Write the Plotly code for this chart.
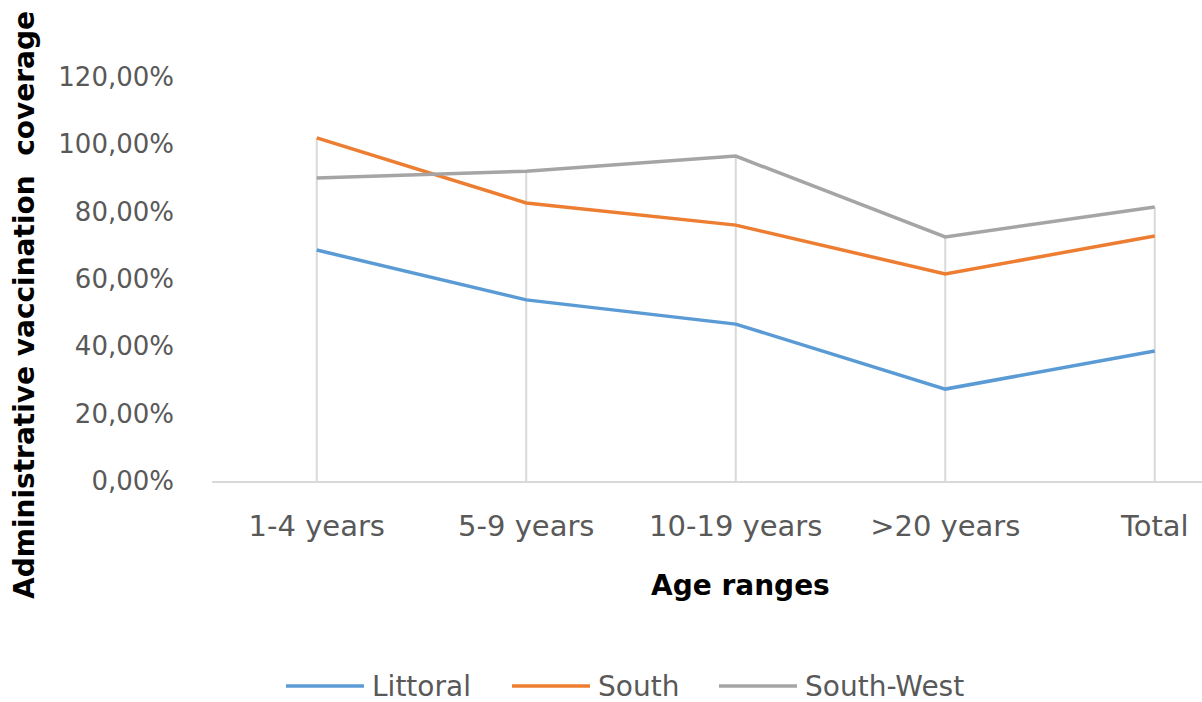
import plotly.graph_objects as go

categories = ["1-4 years", "5-9 years", "10-19 years", ">20 years", "Total"]
littoral = [0.686, 0.538, 0.466, 0.273, 0.386]
south = [1.019, 0.826, 0.760, 0.615, 0.728]
south_west = [0.900, 0.920, 0.965, 0.725, 0.814]
series_names = ["Littoral", "South", "South-West"]
colors = ["#5B9BD5", "#ED7D31", "#A5A5A5"]
y_ticks = [0, 0.2, 0.4, 0.6, 0.8, 1.0, 1.2]

FONT = "DejaVu Sans, Liberation Sans, Arial, sans-serif"

all_series = [littoral, south, south_west]
xs = list(range(len(categories)))

fig = go.Figure()

# Drop lines (from axis up to the highest series at each category)
drop_x, drop_y = [], []
for i in xs:
    top = max(s[i] for s in all_series)
    drop_x += [i, i, None]
    drop_y += [0, top, None]
fig.add_trace(go.Scatter(x=drop_x, y=drop_y, mode="lines",
                         line=dict(color="#D9D9D9", width=2),
                         showlegend=False, hoverinfo="skip"))

for name, vals, col in zip(series_names, all_series, colors):
    fig.add_trace(go.Scatter(
        x=xs, y=vals, mode="lines", name=name,
        line=dict(color=col, width=3.5), showlegend=False,
    ))

plot_h = 702 - 77 - 221
plot_w = 1202 - 212


def px_x(px):
    return (px - 212) / plot_w


def px_y(py):
    return (481 - py) / plot_h


# Legend drawn manually (line sample + label) below the chart
legend_starts = [286, 512, 719]
legend_y = 686
shapes = []
annotations = []
for name, col, x0 in zip(series_names, colors, legend_starts):
    shapes.append(dict(type="line", xref="paper", yref="paper",
                       x0=px_x(x0), x1=px_x(x0 + 78),
                       y0=px_y(legend_y), y1=px_y(legend_y),
                       line=dict(color=col, width=3.5)))
    annotations.append(dict(text=name, xref="paper", yref="paper",
                            x=px_x(x0 + 84), y=px_y(legend_y),
                            xanchor="left", yanchor="middle", showarrow=False,
                            font=dict(size=28, color="#595959")))

annotations += [
    dict(text="<b>Age ranges</b>", xref="paper", yref="paper",
         x=px_x(740), y=px_y(585),
         xanchor="center", yanchor="middle", showarrow=False,
         font=dict(size=28, color="#000000")),
    dict(text="<b>Administrative vaccination  coverage</b>", textangle=-90,
         xref="paper", yref="paper",
         x=px_x(24), y=px_y(305),
         xanchor="center", yanchor="middle", showarrow=False,
         font=dict(size=28, color="#000000")),
]

fig.update_layout(
    width=1202, height=702,
    paper_bgcolor="white", plot_bgcolor="white",
    margin=dict(l=212, r=0, t=77, b=221),
    separators=", ",
    font=dict(family=FONT, size=26, color="#595959"),
    showlegend=False,
    xaxis=dict(
        range=[-0.5, -0.5 + 990 / 209.5],
        tickvals=xs, ticktext=categories,
        showgrid=False,
        showline=True, linecolor="#D9D9D9", linewidth=2,
        zeroline=False, ticks="", ticklabelstandoff=18,
        tickfont=dict(size=29, color="#595959"),
    ),
    yaxis=dict(
        range=[0, 1.2], tickvals=y_ticks, tickformat=".2%",
        showgrid=False, zeroline=False, showline=False,
        ticks="", ticklabelstandoff=37,
        tickfont=dict(size=26, color="#595959"),
    ),
    shapes=shapes,
    annotations=annotations,
)

fig.write_html("out.html")
